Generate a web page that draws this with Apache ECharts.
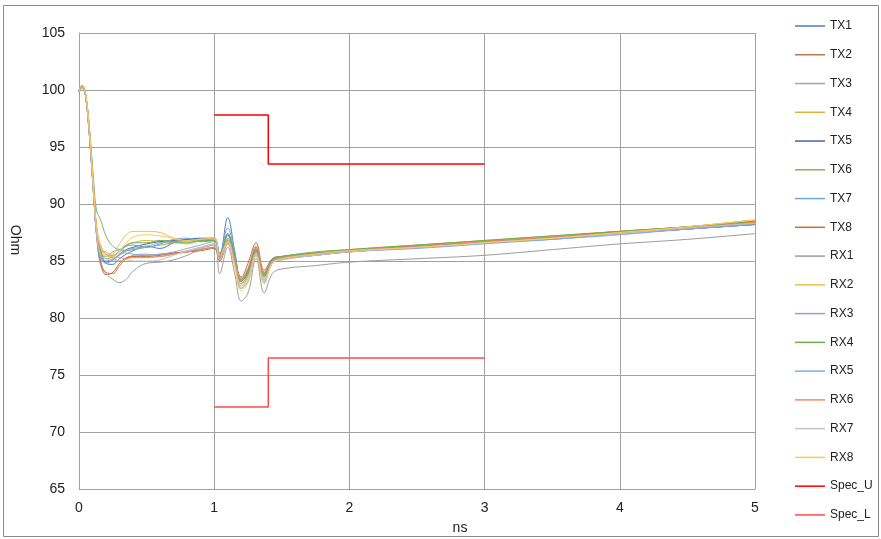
<!DOCTYPE html>
<html>
<head>
<meta charset="utf-8">
<title>Differential impedance (TDR)</title>
<script src="https://cdn.jsdelivr.net/npm/echarts@6/dist/echarts.min.js"></script>
<style>
  html, body { margin: 0; padding: 0; background: #fff; }
  #chart { width: 881px; height: 539px; }
</style>
</head>
<body>
<div id="chart"></div>
<script>
// Time samples (ns) shared by all measured traces
const T = [0, 0.02, 0.035, 0.05, 0.07, 0.09, 0.11, 0.13, 0.16, 0.2,
           0.25, 0.3, 0.35, 0.4, 0.5, 0.6, 0.7, 0.8, 0.9, 1.0,
           1.04, 1.1, 1.15, 1.2, 1.25, 1.31, 1.37, 1.43, 1.5, 1.75,
           2, 2.5, 3, 3.5, 4, 4.5, 5];

// Impedance (Ohm) per lane
const TX1 = [99.9,100.3,100.2,99.5,97.4,94.3,90.9,87.8,86.0,84.8,84.7,85.2,85.6,85.9,86.3,86.1,86.6,86.9,86.7,86.8,85.6,88.8,86.0,83.2,84.0,85.9,83.6,85.0,85.2,85.5,85.8,86.2,86.6,86.9,87.4,87.8,88.2];
const TX2 = [100.0,100.4,100.1,99.3,97.0,94.0,90.5,87.4,85.0,84.0,83.9,84.6,85.2,85.4,85.5,85.6,85.7,85.8,86.0,86.2,85.2,86.8,85.0,83.3,84.2,86.2,83.9,85.0,85.3,85.6,85.9,86.3,86.7,87.1,87.5,87.9,88.4];
const TX3 = [99.8,100.2,100.1,99.4,97.2,94.2,90.8,87.9,86.2,85.6,85.3,85.0,85.2,85.5,85.6,85.4,85.6,85.9,86.2,86.5,85.0,86.6,84.8,83.0,83.8,85.6,83.4,84.8,85.1,85.5,85.8,86.2,86.6,87.0,87.5,87.9,88.3];
const TX4 = [100.0,100.4,100.3,99.6,97.5,94.5,91.0,88.0,86.4,85.6,85.5,85.8,86.3,86.6,86.8,86.7,86.6,86.5,86.8,87.0,85.4,87.2,85.2,82.8,83.6,85.7,83.3,84.9,85.2,85.6,85.9,86.2,86.6,87.0,87.5,88.0,88.6];
const TX5 = [99.9,100.3,100.2,99.5,97.3,94.3,90.7,87.6,85.4,84.9,85.1,85.6,86.0,86.2,86.5,86.7,86.8,86.9,87.0,87.0,85.5,87.4,85.6,83.4,84.2,86.0,84.0,85.2,85.4,85.7,85.9,86.3,86.6,87.0,87.4,87.8,88.2];
const TX6 = [100.0,100.3,100.2,99.5,97.6,94.8,91.8,89.4,88.6,87.2,86.3,86.0,85.9,86.0,86.2,86.4,86.6,86.8,86.7,86.8,85.3,87.3,85.3,83.0,83.8,85.9,83.7,85.1,85.4,85.7,86.0,86.4,86.8,87.2,87.6,88.0,88.5];
const TX7 = [99.9,100.2,100.1,99.4,97.2,94.1,90.6,87.5,85.6,85.4,85.8,86.0,86.3,86.4,86.2,86.5,86.9,87.0,86.8,86.9,85.7,87.9,85.8,83.5,84.1,85.8,83.9,85.1,85.3,85.6,85.9,86.2,86.6,87.0,87.4,87.9,88.3];
const TX8 = [100.0,100.4,100.2,99.4,97.0,93.9,90.4,87.3,84.8,83.8,84.0,84.8,85.3,85.4,85.4,85.5,85.7,85.8,85.9,86.1,85.0,86.5,85.0,83.6,84.8,86.6,84.2,85.1,85.3,85.6,85.9,86.3,86.7,87.1,87.6,88.0,88.5];
const RX1 = [99.8,100.2,100.1,99.3,97.0,93.9,90.4,87.2,84.6,83.9,83.4,83.1,83.4,84.1,84.8,84.9,85.1,85.5,86.0,86.2,83.9,86.2,84.0,81.5,82.2,85.2,82.2,83.9,84.3,84.6,84.9,85.2,85.5,86.0,86.5,86.9,87.4];
const RX2 = [100.0,100.4,100.3,99.6,97.6,94.6,91.1,88.1,86.2,85.4,85.6,86.5,87.3,87.6,87.6,87.5,87.0,86.7,86.8,86.9,85.3,86.9,84.9,82.6,83.5,85.6,83.2,84.9,85.2,85.6,85.9,86.2,86.6,87.0,87.5,88.0,88.6];
const RX3 = [99.9,100.3,100.2,99.5,97.3,94.2,90.7,87.6,85.6,85.0,85.2,85.5,85.9,86.1,86.3,86.6,86.7,86.8,86.9,86.8,85.4,87.0,85.4,83.3,84.0,85.8,83.8,85.0,85.3,85.6,85.9,86.2,86.6,87.0,87.4,87.8,88.3];
const RX4 = [100.0,100.3,100.2,99.5,97.4,94.4,91.0,87.9,85.9,85.2,85.4,85.9,86.4,86.6,86.6,86.8,86.7,86.6,86.8,86.8,85.4,87.3,85.5,83.2,84.0,86.1,83.8,85.2,85.4,85.8,86.0,86.4,86.8,87.2,87.6,88.0,88.5];
const RX5 = [99.9,100.2,100.1,99.4,97.2,94.1,90.6,87.4,85.3,84.8,85.1,85.6,85.7,85.6,85.5,85.6,85.8,86.1,86.4,86.7,85.4,86.8,84.9,82.6,83.2,85.4,83.1,84.9,85.2,85.5,85.8,86.1,86.5,86.9,87.3,87.8,88.2];
const RX6 = [100.0,100.3,100.2,99.5,97.3,94.3,90.8,87.8,86.0,85.8,85.4,85.3,85.2,85.3,85.3,85.4,85.6,85.8,86.1,86.4,85.3,86.7,85.2,83.4,84.4,86.3,84.0,85.0,85.3,85.6,85.9,86.3,86.7,87.1,87.5,87.9,88.4];
const RX7 = [99.8,100.2,100.1,99.4,97.1,94.0,90.5,87.5,85.5,85.2,85.1,85.0,85.1,85.0,85.0,85.1,85.5,85.9,86.2,86.5,85.1,86.6,84.7,83.0,83.6,85.5,83.3,84.8,85.1,85.5,85.8,86.2,86.6,87.0,87.4,87.9,88.3];
const RX8 = [100.0,100.4,100.3,99.6,97.5,94.5,91.0,88.0,86.3,85.5,85.4,85.9,86.6,87.1,87.3,87.2,87.0,86.8,86.9,87.0,85.5,86.7,84.6,82.4,83.1,85.5,83.0,84.8,85.2,85.6,85.9,86.2,86.6,87.0,87.5,88.0,88.6];

// Spec limit masks
const SPEC_X = [1, 1.4, 1.4, 3];
const SPEC_U = [97.8, 97.8, 93.5, 93.5];
const SPEC_L = [72.2, 72.2, 76.5, 76.5];

// Axis ticks
const X_TICKS = { min: 0, max: 5, step: 1 };
const Y_TICKS = { min: 65, max: 105, step: 5 };

const traces = [
  ['TX1', TX1, '#4a7ebb'],
  ['TX2', TX2, '#c0784e'],
  ['TX3', TX3, '#a5a5a5'],
  ['TX4', TX4, '#e3b43a'],
  ['TX5', TX5, '#4a64a8'],
  ['TX6', TX6, '#83b161'],
  ['TX7', TX7, '#6aa6de'],
  ['TX8', TX8, '#cc6a34'],
  ['RX1', RX1, '#9c9c9c'],
  ['RX2', RX2, '#f0c04a'],
  ['RX3', RX3, '#8aa4da'],
  ['RX4', RX4, '#72b04c'],
  ['RX5', RX5, '#7eafe2'],
  ['RX6', RX6, '#f5895e'],
  ['RX7', RX7, '#c4c4c4'],
  ['RX8', RX8, '#ffc85a']
];

const zip = (xs, ys) => xs.map((x, i) => [x, ys[i]]);

const series = traces.map(([name, vals, color]) => ({
  name: name,
  type: 'line',
  data: zip(T, vals),
  smooth: 0.4,
  symbol: 'none',
  color: color,
  lineStyle: { width: 1, color: color },
  emphasis: { disabled: true }
}));

series.push({
  name: 'Spec_U', type: 'line', data: zip(SPEC_X, SPEC_U), symbol: 'none',
  color: '#ff0000', lineStyle: { width: 1.5, color: '#ff0000' }, emphasis: { disabled: true }
});
series.push({
  name: 'Spec_L', type: 'line', data: zip(SPEC_X, SPEC_L), symbol: 'none',
  color: '#ff4a4a', lineStyle: { width: 1.5, color: '#ff4a4a' }, emphasis: { disabled: true }
});

const FONT = '"Liberation Sans", Arial, sans-serif';
const gridLine = { show: true, lineStyle: { color: '#a0a0a0', width: 1 } };

const chart = echarts.init(document.getElementById('chart'), null, { renderer: 'canvas' });
chart.setOption({
  animation: false,
  backgroundColor: '#ffffff',
  textStyle: { fontFamily: FONT },
  grid: { left: 79, right: 126, top: 33, bottom: 50, containLabel: false },
  legend: {
    orient: 'vertical',
    left: 795,
    top: 20,
    padding: 0,
    icon: 'rect',
    itemWidth: 30,
    itemHeight: 1.5,
    itemGap: 16.76,
    textStyle: { fontSize: 12, color: '#222', fontFamily: FONT },
    data: series.map(s => s.name)
  },
  xAxis: {
    type: 'value',
    min: X_TICKS.min, max: X_TICKS.max, interval: X_TICKS.step,
    axisLine: { show: true, lineStyle: { color: '#a0a0a0', width: 1 } },
    axisTick: { show: false },
    axisLabel: { fontSize: 14, color: '#222', margin: 12, fontFamily: FONT },
    splitLine: gridLine
  },
  yAxis: {
    type: 'value',
    min: Y_TICKS.min, max: Y_TICKS.max, interval: Y_TICKS.step,
    axisLine: { show: true, lineStyle: { color: '#a0a0a0', width: 1 } },
    axisTick: { show: false },
    axisLabel: { fontSize: 14, color: '#222', margin: 14, fontFamily: FONT },
    splitLine: gridLine
  },
  graphic: [
    {
      type: 'rect', silent: true, z: -1,
      shape: { x: 3.5, y: 5.5, width: 875, height: 531 },
      style: { fill: 'none', stroke: '#8a8a8a', lineWidth: 1 }
    },
    {
      type: 'text', silent: true,
      x: 460, y: 528,
      style: { text: 'ns', fill: '#222', font: '14px ' + FONT, align: 'center', verticalAlign: 'middle' }
    },
    {
      type: 'text', silent: true,
      x: 15, y: 240, rotation: -Math.PI / 2,
      style: { text: 'Ohm', fill: '#222', font: '14px ' + FONT, align: 'center', verticalAlign: 'middle' }
    }
  ],
  series: series
});
</script>
</body>
</html>
